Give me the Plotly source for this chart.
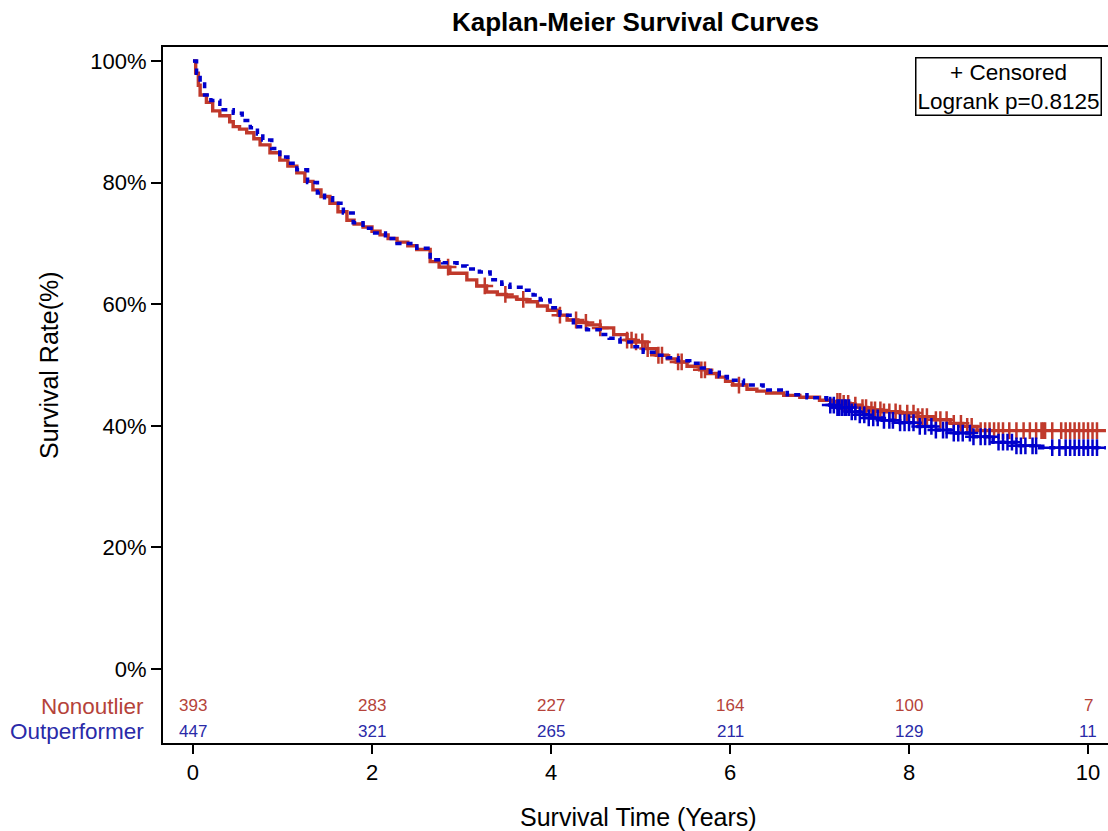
import numpy as np
import plotly.graph_objects as go

# ---------------- data ----------------
red_time = [0, 0.03, 0.06, 0.08, 0.15, 0.22, 0.3, 0.41, 0.45, 0.52, 0.6, 0.68, 0.75, 0.86, 0.97, 1.06,
            1.16, 1.25, 1.34, 1.43, 1.53, 1.62, 1.72, 1.8, 1.9, 2.0, 2.09, 2.18, 2.28, 2.4, 2.5, 2.65,
            2.75, 2.87, 3.06, 3.17, 3.28, 3.4, 3.5, 3.62, 3.73, 3.85, 3.96, 4.08, 4.18, 4.3, 4.4, 4.55,
            4.7, 4.85, 4.92, 5.05, 5.18, 5.3, 5.4, 5.52, 5.66, 5.75, 5.85, 5.95, 6.03, 6.19, 6.3, 6.41,
            6.6, 6.78, 7.0, 7.15, 7.25, 7.34, 7.45, 7.53, 7.7, 7.9, 8.1, 8.27, 8.46, 8.6, 8.76, 10.2]
red_surv = [100, 98, 96, 94.4, 93.2, 91.8, 91.0, 90.0, 89.2, 88.8, 88.2, 87.2, 86.2, 84.9, 83.7, 82.7,
            81.6, 80.2, 78.8, 77.7, 76.6, 75.2, 73.8, 73.2, 72.7, 72.0, 71.4, 70.8, 70.2, 69.6, 69.0, 67.0,
            66.1, 65.1, 64.0, 63.0, 62.0, 61.6, 61.2, 60.8, 60.4, 59.7, 59.0, 58.2, 57.4, 57.0, 56.6, 56.1,
            55.0, 54.1, 53.8, 52.7, 51.6, 51.0, 50.5, 49.8, 49.2, 48.6, 48.0, 47.3, 46.7, 46.0, 45.7, 45.4,
            45.0, 44.7, 44.2, 44.0, 43.7, 43.4, 43.0, 42.6, 42.3, 42.1, 41.5, 41.0, 40.4, 39.9, 39.2, 39.2]

blue_time = [0, 0.04, 0.08, 0.13, 0.2, 0.3, 0.45, 0.55, 0.64, 0.72, 0.78, 0.88, 0.97, 1.06, 1.16, 1.28,
             1.39, 1.47, 1.56, 1.68, 1.79, 1.9, 2.01, 2.15, 2.28, 2.5, 2.65, 2.79, 2.95, 3.06, 3.2, 3.32,
             3.45, 3.54, 3.69, 3.8, 3.88, 3.99, 4.1, 4.25, 4.4, 4.55, 4.65, 4.77, 4.9, 5.03, 5.15, 5.3,
             5.42, 5.55, 5.68, 5.78, 5.88, 5.97, 6.15, 6.37, 6.64, 6.86, 7.08, 7.2, 7.34, 7.45, 7.53, 7.7,
             7.9, 8.1, 8.27, 8.5, 8.72, 8.94, 9.2, 9.46, 10.2]
blue_surv = [100, 98, 96.5, 94.4, 93.5, 92.0, 91.4, 90.2, 89.0, 88.0, 87.0, 85.6, 84.2, 83.2, 82.1, 80.0,
             78.3, 77.5, 76.6, 75.0, 73.4, 72.5, 71.7, 70.8, 70.0, 69.2, 67.3, 66.8, 66.3, 65.8, 65.3, 64.0,
             63.3, 62.8, 62.3, 61.5, 60.7, 59.4, 58.2, 56.3, 55.8, 55.0, 54.4, 53.8, 53.0, 52.1, 51.6, 51.2,
             50.7, 50.3, 49.5, 48.8, 48.1, 47.5, 46.7, 45.9, 45.1, 44.6, 43.4, 43.0, 42.3, 41.8, 41.3, 40.9,
             40.5, 39.9, 39.3, 38.8, 38.2, 37.3, 36.7, 36.4, 36.4]

red_censor = [2.85, 3.26, 3.49, 3.69, 4.1, 4.28, 4.39, 4.55, 4.85, 4.9, 4.95, 5.02, 5.08, 5.2, 5.24,
              5.42, 5.46, 5.68, 5.72, 6.1, 7.2, 7.23, 7.27, 7.32, 7.4, 7.48, 7.52, 7.58, 7.62, 7.68, 7.72,
              7.78, 7.85, 7.9, 7.98, 8.05, 8.1, 8.15, 8.2, 8.3, 8.35, 8.42, 8.5, 8.58, 8.65, 8.7, 8.8,
              8.85, 8.9, 8.95, 9.0, 9.05, 9.12, 9.2, 9.28, 9.35, 9.42, 9.48, 9.5, 9.52, 9.6, 9.7, 9.75,
              9.8, 9.85, 9.9, 9.95, 10.0, 10.05, 10.1]
blue_censor = [7.12, 7.16, 7.2, 7.22, 7.25, 7.28, 7.3, 7.33, 7.36, 7.4, 7.45, 7.5, 7.55, 7.6, 7.65, 7.72,
               7.78, 7.82, 7.9, 7.95, 8.0, 8.05, 8.12, 8.18, 8.25, 8.3, 8.38, 8.42, 8.5, 8.55, 8.6, 8.68,
               8.72, 8.8, 8.85, 8.9, 9.0, 9.05, 9.1, 9.15, 9.2, 9.25, 9.3, 9.38, 9.42, 9.6, 9.68, 9.75,
               9.8, 9.85, 9.9, 9.95, 10.0, 10.05, 10.1]

risk_times = [0, 2, 4, 6, 8, 10]
risk_nonoutlier = [393, 283, 227, 164, 100, 7]
risk_outperformer = [447, 321, 265, 211, 129, 11]

RED = "#C0392B"
BLUE = "#0000CC"
RED_TXT = "#B5433A"
BLUE_TXT = "#2A2AA8"
FONT = "Liberation Sans, Arial, sans-serif"

# plot-area geometry (pixels)
L, R, T, B = 163, 1108, 47, 743
PW, PH = R - L, B - T


def px_x(px):
    return (px - L) / PW


def px_y(py):
    return (B - py) / PH


def step_at(times, surv, pts):
    idx = np.searchsorted(np.array(times), np.array(pts), side="right") - 1
    return [surv[i] for i in idx]


fig = go.Figure()

fig.add_trace(go.Scatter(x=red_time, y=red_surv, mode="lines", line_shape="hv",
                         line=dict(color=RED, width=3.4), name="Nonoutlier", showlegend=False))
fig.add_trace(go.Scatter(x=red_censor, y=step_at(red_time, red_surv, red_censor), mode="markers",
                         marker=dict(symbol="cross-thin", size=12, line=dict(color=RED, width=2.5)),
                         showlegend=False))
fig.add_trace(go.Scatter(x=blue_time, y=blue_surv, mode="lines", line_shape="hv",
                         line=dict(color=BLUE, width=3.5, dash="6px,5px"), name="Outperformer",
                         showlegend=False))
fig.add_trace(go.Scatter(x=blue_censor, y=step_at(blue_time, blue_surv, blue_censor), mode="markers",
                         marker=dict(symbol="cross-thin", size=12, line=dict(color=BLUE, width=2.5)),
                         showlegend=False))

annotations = []
for t, n in zip(risk_times, risk_nonoutlier):
    annotations.append(dict(x=t, y=-6.0, xref="x", yref="y", text=str(n), showarrow=False,
                            font=dict(size=17, color=RED_TXT, family=FONT)))
for t, n in zip(risk_times, risk_outperformer):
    annotations.append(dict(x=t, y=-10.2, xref="x", yref="y", text=str(n), showarrow=False,
                            font=dict(size=17, color=BLUE_TXT, family=FONT)))
annotations.append(dict(x=px_x(146), y=px_y(706), xref="paper", yref="paper", text="Nonoutlier",
                        showarrow=False, xanchor="right", yanchor="middle",
                        font=dict(size=22.5, color=RED_TXT, family=FONT)))
annotations.append(dict(x=px_x(146), y=px_y(731), xref="paper", yref="paper", text="Outperformer",
                        showarrow=False, xanchor="right", yanchor="middle",
                        font=dict(size=22.5, color=BLUE_TXT, family=FONT)))
# y-axis title centred on 0-100 range
annotations.append(dict(x=px_x(49), y=px_y(365), xref="paper", yref="paper", text="Survival Rate(%)",
                        showarrow=False, textangle=-90, xanchor="center", yanchor="middle",
                        font=dict(size=25, color="black", family=FONT)))
# x-axis title
annotations.append(dict(x=px_x(638), y=px_y(817), xref="paper", yref="paper", xanchor="center",
                        yanchor="middle", text="Survival Time (Years)", showarrow=False,
                        font=dict(size=25, color="black", family=FONT)))
# inset box
annotations.append(dict(x=px_x(1102), y=px_y(57), xref="paper", yref="paper", xanchor="right",
                        yanchor="top", text="+ Censored<br>Logrank p=0.8125", showarrow=False,
                        align="center", bordercolor="black", borderwidth=1.5, borderpad=1,
                        bgcolor="white", font=dict(size=22.5, color="black", family=FONT)))

fig.update_layout(
    width=1108, height=831,
    margin=dict(l=L, r=1108 - R, t=T, b=831 - B),
    plot_bgcolor="white", paper_bgcolor="white",
    font=dict(family=FONT, color="black"),
    title=dict(text="<b>Kaplan-Meier Survival Curves</b>", x=(L + R) / 2 / 1108, xanchor="center",
               y=1 - 22 / 831, yanchor="middle", font=dict(size=26, family=FONT, color="black")),
    xaxis=dict(range=[-0.335, 10.223], tickvals=risk_times, ticktext=[str(t) for t in risk_times],
               showgrid=False, zeroline=False, showline=True, linecolor="black", linewidth=2,
               mirror=True, ticks="outside", ticklen=9, tickwidth=2, tickcolor="black",
               tickfont=dict(size=22, family=FONT, color="black")),
    yaxis=dict(range=[-12.17, 102.3], tickvals=[0, 20, 40, 60, 80, 100],
               ticktext=["0%", "20%", "40%", "60%", "80%", "100%"],
               showgrid=False, zeroline=False, showline=True, linecolor="black", linewidth=2,
               mirror=False, ticks="outside", ticklen=10, tickwidth=2, tickcolor="black",
               tickfont=dict(size=22, family=FONT, color="black")),
    annotations=annotations,
)

fig.write_html("out.html")
